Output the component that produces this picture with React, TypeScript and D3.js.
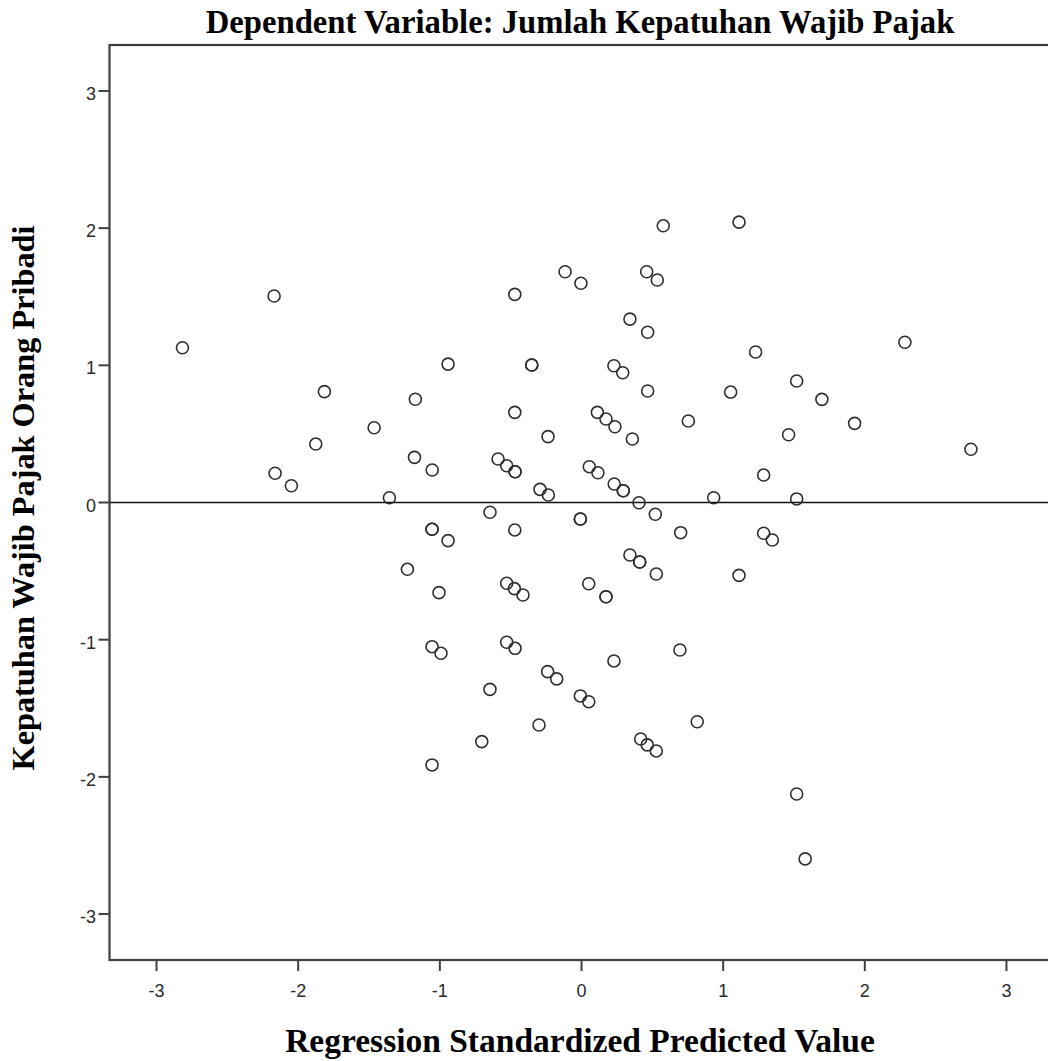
import React from "react";
import * as d3 from "d3";

// Regression Standardized Predicted Value (x) and Regression Standardized Residual (y)
const predicted: number[] = [
  -2.817, -2.17, -2.163, -2.048, -1.876, -1.815, -1.464, -1.356, -1.229, -1.173,
  -1.179, -1.054, -1.055, -1.055, -0.942, -0.942, -1.006, -1.055, -0.992, -1.055,
  -0.704, -0.646, -0.646, -0.589, -0.528, -0.469, -0.469, -0.471, -0.471, -0.471,
  -0.351, -0.351, -0.528, -0.474, -0.413, -0.528, -0.469, -0.3, -0.239, -0.175,
  -0.293, -0.234, -0.236, -0.116, -0.004, -0.008, -0.008, -0.008, 0.051, 0.051,
  0.055, 0.116, 0.112, 0.173, 0.173, 0.173, 0.229, 0.291, 0.236, 0.231,
  0.295, 0.295, 0.229, 0.342, 0.342, 0.359, 0.406, 0.411, 0.411, 0.418,
  0.464, 0.528, 0.46, 0.535, 0.467, 0.467, 0.521, 0.528, 0.577, 0.7,
  0.695, 0.754, 0.817, 0.933, 1.053, 1.112, 1.112, 1.229, 1.286, 1.286,
  1.347, 1.462, 1.519, 1.519, 1.519, 1.579, 1.697, 1.928, 2.283, 2.749,
];
const residual: number[] = [
  1.128, 1.505, 0.213, 0.122, 0.426, 0.808, 0.545, 0.035, -0.487, 0.753,
  0.329, 0.237, -0.195, -0.195, -0.278, 1.009, -0.657, -1.051, -1.099, -1.913,
  -1.743, -1.362, -0.071, 0.317, 0.268, 0.224, 0.224, -0.2, 0.657, 1.517,
  1.002, 1.002, -0.589, -0.628, -0.674, -1.019, -1.063, -1.622, -1.233, -1.286,
  0.096, 0.055, 0.48, 1.682, 1.598, -0.12, -0.12, -1.41, -1.452, -0.592,
  0.261, 0.217, 0.657, 0.609, -0.687, -0.687, 0.997, 0.946, 0.552, 0.135,
  0.086, 0.086, -1.155, 1.337, -0.383, 0.463, -0.002, -0.434, -0.434, -1.724,
  -1.767, -1.811, 1.682, 1.622, 1.241, 0.813, -0.086, -0.521, 2.017, -0.22,
  -1.075, 0.594, -1.598, 0.035, 0.805, 2.044, -0.531, 1.097, 0.2, -0.224,
  -0.273, 0.494, 0.886, 0.026, -2.125, -2.598, 0.752, 0.577, 1.168, 0.388,
];
const xTicks: number[] = [-3, -2, -1, 0, 1, 2, 3];
const yTicks: number[] = [-3, -2, -1, 0, 1, 2, 3];

const titleText = "Dependent Variable: Jumlah Kepatuhan Wajib Pajak";
const xLabelText = "Regression Standardized Predicted Value";
const yLabelText = "Kepatuhan Wajib Pajak Orang Pribadi";

const W = 1048;
const H = 1061;
const left = 109.5;
const right = 1053.5;
const top = 45;
const bottom = 960;

const serif = "'Liberation Serif', 'Times New Roman', serif";
const sans = "'Liberation Sans', Arial, sans-serif";

export default function App() {
  const x = d3.scaleLinear().domain([-3.332, 3.332]).range([left, right]);
  const y = d3.scaleLinear().domain([-3.335, 3.335]).range([bottom, top]);
  const points = predicted.map((p, i) => [p, residual[i]] as [number, number]);

  return (
    <svg
      width={W}
      height={H}
      style={{ position: "absolute", left: 0, top: 0, background: "#fff" }}
    >
      <rect x={0} y={0} width={W} height={H} fill="#fff" />
      <text
        x={580}
        y={33}
        textAnchor="middle"
        fontFamily={serif}
        fontWeight="bold"
        fontSize={32.7}
        fill="#000"
      >
        {titleText}
      </text>

      {/* zero reference line */}
      <line x1={left} x2={right} y1={y(0)} y2={y(0)} stroke="#111" strokeWidth={1.6} />

      {/* points */}
      <g fill="none" stroke="#2e2e2e" strokeWidth={1.6}>
        {points.map((d, i) => (
          <circle key={i} cx={x(d[0])} cy={y(d[1])} r={6} />
        ))}
      </g>

      {/* frame */}
      <rect
        x={left}
        y={top}
        width={right - left}
        height={bottom - top}
        fill="none"
        stroke="#404040"
        strokeWidth={2.2}
      />

      {/* x axis ticks */}
      <g>
        {xTicks.map((t) => (
          <g key={t}>
            <line x1={x(t)} x2={x(t)} y1={bottom} y2={bottom + 11} stroke="#404040" strokeWidth={2} />
            <text
              x={x(t)}
              y={997}
              textAnchor="middle"
              fontFamily={sans}
              fontSize={18}
              fill="#2a2a2a"
            >
              {t}
            </text>
          </g>
        ))}
      </g>

      {/* y axis ticks */}
      <g>
        {yTicks.map((t) => (
          <g key={t}>
            <line x1={left - 11} x2={left} y1={y(t)} y2={y(t)} stroke="#404040" strokeWidth={2} />
            <text
              x={96}
              y={y(t) + 9}
              textAnchor="end"
              fontFamily={sans}
              fontSize={18}
              fill="#2a2a2a"
            >
              {t}
            </text>
          </g>
        ))}
      </g>

      <text
        x={580}
        y={1052}
        textAnchor="middle"
        fontFamily={serif}
        fontWeight="bold"
        fontSize={33.5}
        fill="#000"
      >
        {xLabelText}
      </text>
      <text
        transform={`translate(34, 498) rotate(-90)`}
        textAnchor="middle"
        fontFamily={serif}
        fontWeight="bold"
        fontSize={32.3}
        fill="#000"
      >
        {yLabelText}
      </text>
    </svg>
  );
}
